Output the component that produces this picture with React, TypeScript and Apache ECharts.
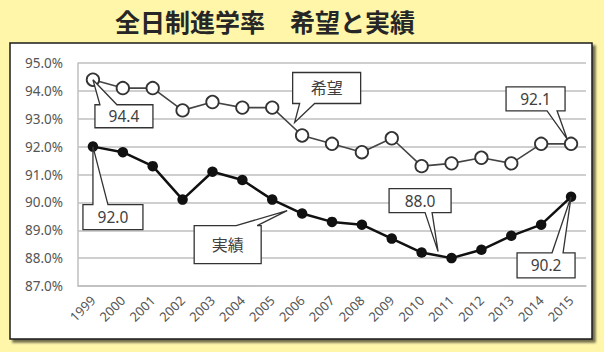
import React, { useEffect, useRef } from "react";
import * as echarts from "echarts";

const years = ["1999","2000","2001","2002","2003","2004","2005","2006","2007","2008","2009","2010","2011","2012","2013","2014","2015"];
const hope = [94.4, 94.1, 94.1, 93.3, 93.6, 93.4, 93.4, 92.4, 92.1, 91.8, 92.3, 91.3, 91.4, 91.6, 91.4, 92.1, 92.1];
const actual = [92.0, 91.8, 91.3, 90.1, 91.1, 90.8, 90.1, 89.6, 89.3, 89.2, 88.7, 88.2, 88.0, 88.3, 88.8, 89.2, 90.2];
const titleText = "全日制進学率　希望と実績";
const hopeName = "希望";
const actualName = "実績";

type Callout = {
  text: string;
  s: number; i: number; t: number; // series, index, interpolation toward next point
  tip: [number, number];
  box: [number, number, number, number];
  edge: "top" | "bottom";
  base: [number, number];
  fs: number;
};

const callouts: Callout[] = [
  { text: "94.4", s: 0, i: 0, t: 0, tip: [0, 0], box: [2, 25, 58, 23], edge: "top", base: [7, 24], fs: 15.5 },
  { text: "92.0", s: 1, i: 0, t: 0, tip: [0, 0], box: [-10, 58, 60, 25], edge: "top", base: [0, 15], fs: 15.5 },
  { text: hopeName, s: 0, i: 6, t: 0.75, tip: [0, -6], box: [-2, -50, 68, 31], edge: "bottom", base: [5, 20], fs: 16 },
  { text: actualName, s: 1, i: 6, t: 0.5, tip: [0, 4], box: [-93, 15, 67, 38], edge: "top", base: [-51, -30], fs: 16 },
  { text: "88.0", s: 1, i: 11, t: 0.55, tip: [0, -4], box: [-49, -63, 62, 24], edge: "bottom", base: [-13, -6], fs: 15.5 },
  { text: "90.2", s: 1, i: 16, t: 0, tip: [0, 0], box: [-54, 56, 58, 25], edge: "top", base: [-19, -8], fs: 15.5 },
  { text: "92.1", s: 0, i: 16, t: 0, tip: [-4, -5], box: [-61, -52, 59, 24], edge: "bottom", base: [-20, -10], fs: 15.5 },
];

const FONT = "'Noto Sans', 'Noto Sans CJK JP', sans-serif";

export default function App() {
  const ref = useRef<HTMLDivElement>(null);
  useEffect(() => {
    if (!ref.current) return;
    const chart = echarts.init(ref.current, undefined, { renderer: "svg" });
    chart.setOption({
      animation: false,
      backgroundColor: "#FFF6AA",
      title: {
        text: titleText,
        left: 260,
        top: 3,
        textAlign: "center",
        textStyle: { fontFamily: "'Noto Sans CJK JP', sans-serif", fontSize: 25, fontWeight: "bold", color: "#262626" },
      },
      grid: { left: 78, right: 18, top: 63, bottom: 66 },
      xAxis: {
        type: "category",
        data: years,
        boundaryGap: true,
        axisLine: { show: true, lineStyle: { color: "#BFBFBF", width: 1.5 } },
        axisTick: { show: false },
        axisLabel: { rotate: 45, margin: 12, fontSize: 13, color: "#555555", fontFamily: FONT, interval: 0 },
      },
      yAxis: {
        type: "value",
        min: 87,
        max: 95,
        interval: 1,
        axisLine: { show: true, lineStyle: { color: "#BFBFBF", width: 1.5 } },
        axisTick: { show: false },
        splitLine: { lineStyle: { color: "#BFBFBF", width: 1.5 } },
        axisLabel: { margin: 15, fontSize: 13.5, color: "#555555", fontFamily: FONT, formatter: (v: number) => v.toFixed(1) + "%" },
      },
      series: [
        {
          name: hopeName, type: "line", data: hope, symbol: "circle", symbolSize: 12.5, z: 3,
          itemStyle: { color: "#FFFFFF", borderColor: "#333333", borderWidth: 1.8 },
          lineStyle: { color: "#444444", width: 1.6 },
        },
        {
          name: actualName, type: "line", data: actual, symbol: "circle", symbolSize: 10.5, z: 3,
          itemStyle: { color: "#111111" },
          lineStyle: { color: "#111111", width: 2.5 },
        },
      ],
    });

    const data = [hope, actual];
    const gfx: any[] = [
      {
        type: "rect", z: -10,
        shape: { x: 10, y: 43, width: 582, height: 296 },
        style: { fill: "#FFFFFF", stroke: "#1A1A1A", lineWidth: 1.5, shadowColor: "rgba(0,0,0,0.55)", shadowOffsetX: 3, shadowOffsetY: 3, shadowBlur: 2 },
      },
    ];
    callouts.forEach((c) => {
      const p0 = chart.convertToPixel({ seriesIndex: c.s }, [c.i, data[c.s][c.i]]) as number[];
      let ax = p0[0], ay = p0[1];
      if (c.t > 0) {
        const p1 = chart.convertToPixel({ seriesIndex: c.s }, [c.i + 1, data[c.s][c.i + 1]]) as number[];
        ax = p0[0] + (p1[0] - p0[0]) * c.t;
        ay = p0[1] + (p1[1] - p0[1]) * c.t;
      }
      const tx = ax + c.tip[0], ty = ay + c.tip[1];
      const x = tx + c.box[0], y = ty + c.box[1], w = c.box[2], h = c.box[3];
      const b1 = tx + c.base[0], b2 = tx + c.base[1];
      let pts: number[][];
      if (c.edge === "top") {
        pts = [[x, y], [b1, y], [tx, ty], [b2, y], [x + w, y], [x + w, y + h], [x, y + h]];
      } else {
        pts = [[x, y], [x + w, y], [x + w, y + h], [b2, y + h], [tx, ty], [b1, y + h], [x, y + h]];
      }
      gfx.push({
        type: "polygon", z: 100,
        shape: { points: pts },
        style: { fill: "#FFFFFF", stroke: "#333333", lineWidth: 1.3, lineJoin: "miter" },
      });
      gfx.push({
        type: "text", z: 101,
        x: x + w / 2, y: y + h / 2,
        style: { text: c.text, fill: "#404040", fontSize: c.fs, fontFamily: FONT, align: "center", verticalAlign: "middle" },
      });
    });
    chart.setOption({ graphic: gfx });
    return () => chart.dispose();
  }, []);
  return <div ref={ref} style={{ position: "fixed", left: 0, top: 0, width: 604, height: 352, background: "#FFF6AA" }} />;
}
